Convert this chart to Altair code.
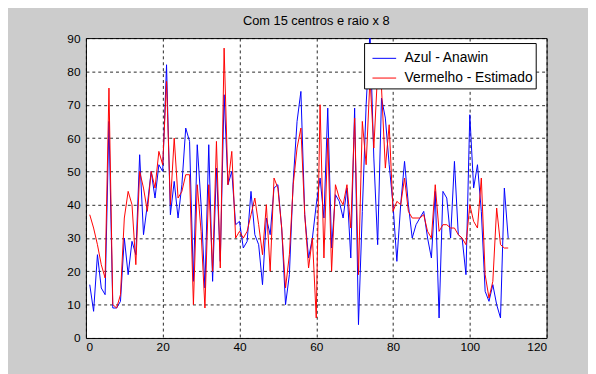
import altair as alt
import pandas as pd

x_vals = list(range(1, 111))

azul = [16, 8, 25, 15, 13, 65, 9, 9, 11, 30,
        19, 29, 25, 55, 31, 40, 50, 42, 52, 50,
        82, 37, 47, 36, 46, 63, 59, 17, 58, 40,
        15, 58, 17, 51, 23, 73, 46, 50, 34, 35,
        27, 29, 44, 31, 28, 16, 36, 31, 45, 46,
        33, 10, 19, 47, 65, 74, 37, 24, 30, 40,
        48, 36, 69, 27, 43, 41, 36, 45, 24, 69,
        4, 38, 70, 92, 54, 28, 72, 66, 52, 40,
        23, 40, 53, 40, 30, 34, 36, 38, 30, 24,
        44, 6, 44, 42, 30, 53, 31, 30, 19, 67,
        45, 52, 38, 14, 11, 16, 10, 6, 45, 30]

vermelho = [37, 33, 28, 22, 18, 75, 10, 9, 13, 36,
            44, 40, 22, 50, 45, 38, 50, 45, 56, 52,
            77, 40, 60, 42, 44, 49, 49, 10, 46, 32,
            9, 46, 20, 59, 21, 87, 46, 56, 30, 32,
            30, 32, 37, 42, 34, 25, 40, 20, 48, 45,
            33, 15, 25, 46, 57, 63, 37, 21, 30, 6,
            70, 24, 60, 20, 46, 42, 40, 46, 33, 66,
            19, 65, 52, 78, 57, 80, 75, 51, 64, 38,
            41, 40, 48, 38, 36, 36, 36, 37, 32, 30,
            46, 32, 34, 34, 33, 33, 31, 30, 28, 40,
            35, 33, 48, 19, 12, 17, 39, 28, 27, 27]

series_names = ["Azul - Anawin", "Vermelho - Estimado"]
series_colors = ["#0000ff", "#ff0000"]

df = pd.concat([
    pd.DataFrame({"x": x_vals, "y": azul, "serie": series_names[0], "ordem": 0}),
    pd.DataFrame({"x": x_vals, "y": vermelho, "serie": series_names[1], "ordem": 1}),
])

FONT = "Liberation Sans"

chart = alt.Chart(df).mark_line(strokeWidth=1, clip=True).encode(
    x=alt.X("x:Q", scale=alt.Scale(domain=[0, 120], nice=False),
            axis=alt.Axis(values=list(range(0, 121, 20)), title=None)),
    y=alt.Y("y:Q", scale=alt.Scale(domain=[0, 90], nice=False),
            axis=alt.Axis(values=list(range(0, 91, 10)), title=None)),
    color=alt.Color("serie:N",
                    scale=alt.Scale(domain=series_names, range=series_colors),
                    legend=alt.Legend(title=None, orient="none", legendX=282, legendY=5,
                                      symbolType="stroke", symbolSize=576,
                                      symbolStrokeWidth=1, symbolOffset=5,
                                      labelFont=FONT, labelFontSize=14, labelColor="#000",
                                      labelOffset=8, rowPadding=0, padding=3,
                                      fillColor="#ffffff", strokeColor="#000000")),
    order="ordem:Q",
).properties(
    width=467,
    height=304,
    title=alt.Title("Com 15 centros e raio x 8", font=FONT, fontSize=13,
                    fontWeight="normal", color="#000", offset=4, anchor="middle"),
    autosize=alt.AutoSizeParams(type="none"),
    padding={"left": 79, "top": 28, "right": 42, "bottom": 34},
    background="#cccccc",
).configure_view(
    fill="#ffffff", stroke="#000000", strokeWidth=1
).configure_axis(
    domain=False, ticks=False,
    grid=True, gridColor="#000000", gridDash=[3, 3], gridWidth=1, gridOpacity=0.85,
    labelFont=FONT, labelFontSize=12, labelColor="#000",
).configure_axisX(labelPadding=4).configure_axisY(labelPadding=6)

chart.save("out.html", embed_options={"renderer": "svg", "actions": False})
